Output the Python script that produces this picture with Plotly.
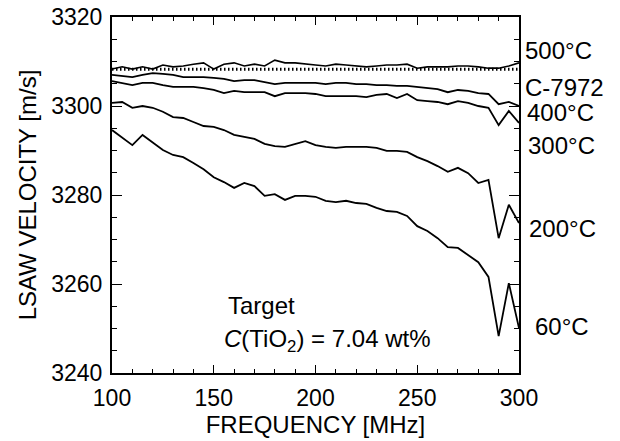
import plotly.graph_objects as go

freq = [100 + 5 * i for i in range(41)]

v500 = [3308.3, 3308.8, 3308.3, 3308.8, 3308.3, 3309.2, 3308.8, 3309.0, 3309.4, 3309.7,
        3308.3, 3309.4, 3309.7, 3309.0, 3309.4, 3309.0, 3310.3, 3309.7, 3309.7, 3309.4,
        3309.2, 3309.0, 3309.4, 3309.2, 3309.0, 3308.8, 3309.0, 3309.2, 3309.2, 3309.4,
        3308.5, 3308.8, 3308.8, 3308.8, 3309.0, 3309.0, 3308.8, 3308.5, 3308.5, 3309.0,
        3309.7]

c7972 = [3308.25] * 41

v400 = [3307.0, 3306.7, 3306.5, 3307.0, 3307.4, 3307.2, 3307.0, 3306.5, 3306.5, 3306.5,
        3306.3, 3306.1, 3305.6, 3305.8, 3305.8, 3305.4, 3304.9, 3305.2, 3305.2, 3305.2,
        3305.2, 3304.9, 3305.2, 3305.2, 3304.9, 3304.9, 3304.7, 3304.7, 3304.5, 3304.5,
        3304.3, 3304.0, 3303.8, 3303.1, 3303.6, 3303.4, 3302.9, 3302.7, 3300.4, 3300.9,
        3300.0]

v300 = [3305.6, 3305.2, 3304.7, 3305.2, 3305.2, 3304.7, 3304.3, 3304.3, 3304.3, 3304.0,
        3303.6, 3302.9, 3303.4, 3303.1, 3303.1, 3303.1, 3302.2, 3302.9, 3302.9, 3302.9,
        3302.7, 3302.2, 3302.2, 3302.2, 3302.2, 3302.0, 3302.5, 3302.7, 3301.8, 3302.7,
        3301.3, 3301.1, 3300.9, 3300.4, 3301.1, 3300.7, 3300.0, 3299.6, 3295.7, 3298.9,
        3296.2]

v200 = [3300.7, 3300.9, 3299.6, 3300.0, 3299.6, 3298.7, 3297.5, 3297.3, 3296.4, 3295.5,
        3295.3, 3294.6, 3293.5, 3293.0, 3292.6, 3291.5, 3291.0, 3290.8, 3291.5, 3292.1,
        3291.2, 3290.8, 3290.6, 3290.8, 3290.8, 3290.8, 3290.6, 3289.9, 3289.9, 3289.7,
        3288.5, 3287.6, 3286.5, 3285.2, 3286.1, 3284.9, 3282.7, 3283.4, 3270.3, 3277.8,
        3273.7]

v60 = [3294.6, 3293.0, 3291.2, 3293.5, 3291.9, 3290.1, 3289.0, 3288.5, 3287.2, 3285.8,
       3284.0, 3282.9, 3281.6, 3282.7, 3282.0, 3279.8, 3280.2, 3278.9, 3279.8, 3279.8,
       3279.6, 3278.7, 3278.4, 3278.7, 3278.2, 3278.0, 3277.1, 3276.4, 3276.2, 3275.3,
       3273.0, 3271.9, 3270.3, 3268.3, 3268.1, 3266.5, 3264.9, 3261.6, 3248.3, 3260.2,
       3250.1]

labels = ["500°C", "C-7972", "400°C", "300°C", "200°C", "60°C"]
label_py = [0.907, 0.801, 0.733, 0.638, 0.407, 0.132]
label_px = [1.010, 1.010, 1.015, 1.017, 1.020, 1.034]

FONT = "Liberation Sans, Arial, Helvetica, sans-serif"
FS = 24

fig = go.Figure()
for ys, dash, w in [(v500, None, 1.6), (c7972, "1.5px,2.5px", 3), (v400, None, 1.8),
                    (v300, None, 1.8), (v200, None, 1.8), (v60, None, 1.8)]:
    fig.add_trace(go.Scatter(x=freq, y=ys, mode="lines",
                             line=dict(color="black", width=w, dash=dash),
                             showlegend=False, hoverinfo="skip"))

for t, lx, ly in zip(labels, label_px, label_py):
    fig.add_annotation(x=lx, y=ly, xref="paper", yref="paper", text=t, showarrow=False,
                       xanchor="left", yanchor="middle",
                       font=dict(size=FS, color="black", family=FONT))

fig.add_annotation(x=156, y=3255.2, text="Target", showarrow=False, xanchor="left",
                   yanchor="middle", font=dict(size=FS, color="black", family=FONT))
fig.add_annotation(x=154, y=3247.3, text="<i>C</i>(TiO<sub>2</sub>) = 7.04 wt%",
                   showarrow=False, xanchor="left", yanchor="middle",
                   font=dict(size=FS, color="black", family=FONT))

fig.update_layout(
    width=620, height=441,
    margin=dict(l=112, r=101, t=17, b=68, autoexpand=False),
    paper_bgcolor="white", plot_bgcolor="white",
    font=dict(family=FONT, size=FS, color="black"),
)
fig.update_xaxes(range=[100, 300], tickvals=[100, 150, 200, 250, 300],
                 ticks="inside", ticklen=8, tickwidth=1.2, tickcolor="black",
                 minor=dict(dtick=10, ticks="inside", ticklen=4, tickwidth=1, tickcolor="black"),
                 showline=True, linewidth=2, linecolor="black", mirror="allticks",
                 showgrid=False, zeroline=False, automargin=False, ticklabelstandoff=3,
                 title=dict(text="FREQUENCY [MHz]", standoff=0, font=dict(size=FS)),
                 tickfont=dict(size=23))
fig.update_yaxes(range=[3240, 3320], tickvals=[3240, 3260, 3280, 3300, 3320],
                 ticks="inside", ticklen=10, tickwidth=1.2, tickcolor="black",
                 minor=dict(dtick=5, ticks="inside", ticklen=5, tickwidth=1, tickcolor="black"),
                 showline=True, linewidth=2, linecolor="black", mirror="allticks",
                 showgrid=False, zeroline=False, automargin=False, ticklabelstandoff=3,
                 title=dict(text="LSAW VELOCITY [m/s]", standoff=8, font=dict(size=FS)),
                 tickfont=dict(size=23))

fig.write_html("out.html", config={"displayModeBar": False},
               post_script="document.body.style.margin='0';")
